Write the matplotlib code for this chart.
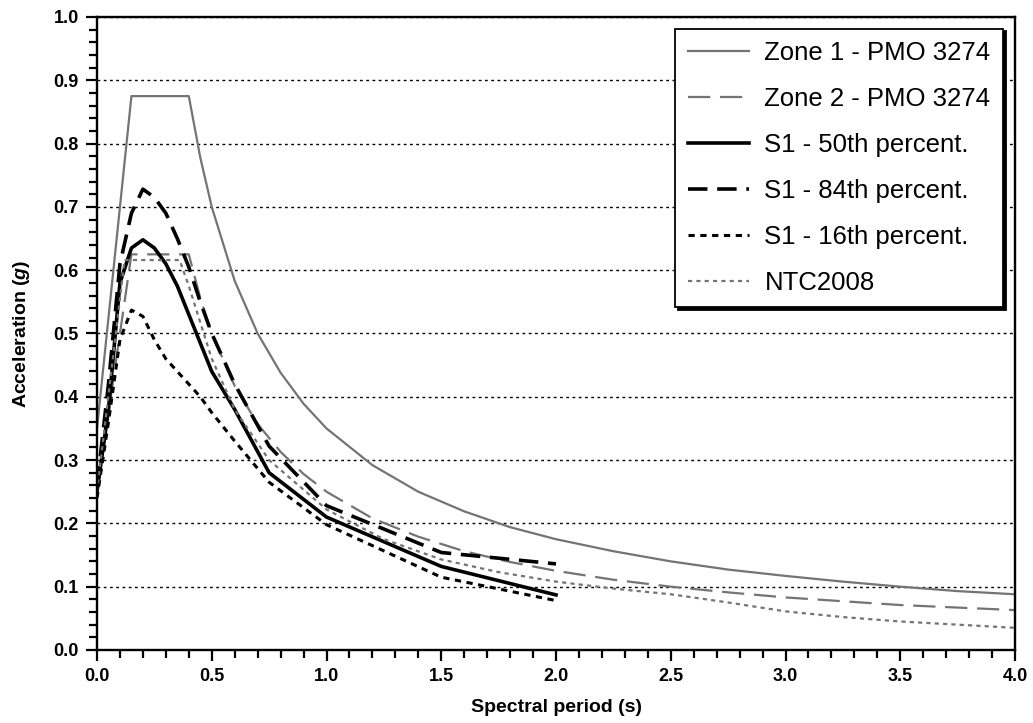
import matplotlib
matplotlib.use("Agg")
import matplotlib.pyplot as plt
from matplotlib.ticker import MultipleLocator, FormatStrFormatter

# spectra (period in s, acceleration in g)
t_code = [0, 0.15, 0.4, 0.45, 0.5, 0.6, 0.7, 0.8, 0.9, 1.0, 1.2, 1.4, 1.6, 1.8,
          2.0, 2.25, 2.5, 2.75, 3.0, 3.25, 3.5, 3.75, 4.0]
zone1 = [0.35, 0.875, 0.875, 0.778, 0.70, 0.583, 0.50, 0.438, 0.389, 0.35, 0.292,
         0.25, 0.219, 0.194, 0.175, 0.156, 0.14, 0.127, 0.117, 0.108, 0.10, 0.093, 0.088]
zone2 = [0.25, 0.625, 0.625, 0.556, 0.50, 0.417, 0.357, 0.313, 0.278, 0.25, 0.208,
         0.179, 0.156, 0.139, 0.125, 0.111, 0.10, 0.091, 0.083, 0.077, 0.071, 0.067, 0.063]

t_ntc = [0, 0.12, 0.36, 0.4, 0.5, 0.6, 0.75, 1.0, 1.25, 1.5, 1.75, 2.0, 2.25, 2.5,
         2.75, 3.0, 3.25, 3.5, 3.75, 4.0]
ntc = [0.25, 0.616, 0.616, 0.575, 0.46, 0.38, 0.30, 0.222, 0.175, 0.143, 0.123, 0.108,
       0.097, 0.088, 0.075, 0.061, 0.052, 0.045, 0.04, 0.035]

t_s1 = [0, 0.05, 0.1, 0.15, 0.2, 0.25, 0.3, 0.35, 0.4, 0.45, 0.5, 0.6, 0.75, 1.0, 1.5, 2.0]
s1_50 = [0.25, 0.38, 0.58, 0.635, 0.648, 0.635, 0.61, 0.575, 0.53, 0.485, 0.44, 0.38,
         0.28, 0.21, 0.132, 0.087]
s1_84 = [0.26, 0.42, 0.61, 0.69, 0.728, 0.715, 0.69, 0.65, 0.605, 0.55, 0.50, 0.42,
         0.322, 0.228, 0.154, 0.136]
s1_16 = [0.24, 0.36, 0.49, 0.537, 0.527, 0.49, 0.46, 0.44, 0.42, 0.40, 0.375, 0.33,
         0.265, 0.198, 0.115, 0.078]

plt.rcParams["font.family"] = ["Liberation Sans", "DejaVu Sans"]
plt.rcParams["mathtext.fontset"] = "custom"
plt.rcParams["mathtext.it"] = "Liberation Sans:italic:bold"
plt.rcParams["lines.scale_dashes"] = False

fig = plt.figure(figsize=(10.33, 7.23), dpi=100)
ax = fig.add_axes([0.0939, 0.101, 0.8887, 0.8755])

gray = "#747474"
ax.plot(t_code, zone1, color=gray, lw=1.6, label="Zone 1 - PMO 3274")
ax.plot(t_code, zone2, color=gray, lw=1.6, dashes=(16, 7), label="Zone 2 - PMO 3274")
ax.plot(t_s1, s1_50, color="black", lw=2.6, label="S1 - 50th percent.")
ax.plot(t_s1, s1_84, color="black", lw=2.6, dashes=(14, 7), label="S1 - 84th percent.")
ax.plot(t_s1, s1_16, color="black", lw=2.2, dashes=(4.5, 4), label="S1 - 16th percent.")
ax.plot(t_ntc, ntc, color=gray, lw=1.6, dashes=(3, 3), label="NTC2008")

ax.set_xlim(0, 4)
ax.set_ylim(0, 1)
ax.xaxis.set_major_locator(MultipleLocator(0.5))
ax.xaxis.set_minor_locator(MultipleLocator(0.1))
ax.yaxis.set_major_locator(MultipleLocator(0.1))
ax.yaxis.set_minor_locator(MultipleLocator(0.02))
ax.xaxis.set_major_formatter(FormatStrFormatter("%.1f"))
ax.yaxis.set_major_formatter(FormatStrFormatter("%.1f"))
ax.tick_params(which="both", direction="out", width=1.6, colors="black")
ax.tick_params(which="major", length=8, labelsize=13, pad=5)
ax.tick_params(which="minor", length=6)
for lab in ax.get_xticklabels() + ax.get_yticklabels():
    lab.set_fontweight("bold")
for sp in ax.spines.values():
    sp.set_linewidth(1.7)

ax.yaxis.grid(True, which="major", color="black", lw=1.0, linestyle=(0, (2, 2.5)))
ax.set_axisbelow(True)

ax.set_xlabel("Spectral period (s)", fontsize=14, fontweight="bold")
ax.set_ylabel("Acceleration ($g$)", fontsize=14, fontweight="bold")
ax.xaxis.set_label_coords(0.5, -0.077)
ax.yaxis.set_label_coords(-0.071, 0.5)

leg = ax.legend(loc="upper right", fontsize=18.5, handlelength=2.35, handletextpad=0.62,
                labelspacing=0.85, borderaxespad=0.45, fancybox=False, framealpha=1,
                borderpad=0.5, shadow={"color": "black", "alpha": 1})
leg.get_frame().set_edgecolor("black")
leg.get_frame().set_linewidth(1.3)

fig.savefig("out.png", dpi=100)
